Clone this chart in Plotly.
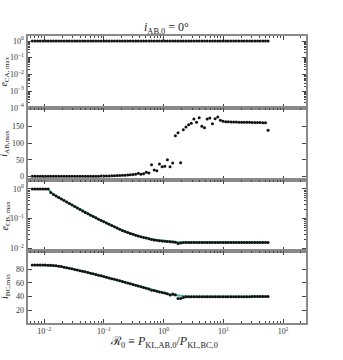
import plotly.graph_objects as go

# ---------------- data ----------------
R0 = [0.00631, 0.00699, 0.00774, 0.00857, 0.00950, 0.01052, 0.01165, 0.01290, 0.01429, 0.01583,
      0.01753, 0.01942, 0.02151, 0.02382, 0.02638, 0.02922, 0.03236, 0.03584, 0.03970, 0.04396,
      0.04870, 0.05395, 0.05975, 0.06617, 0.07330, 0.08117, 0.08994, 0.09961, 0.1103, 0.1222,
      0.1353, 0.1499, 0.1660, 0.1839, 0.2037, 0.2256, 0.2499, 0.2767, 0.3065, 0.3395,
      0.3760, 0.4165, 0.4613, 0.5109, 0.5659, 0.6268, 0.6943, 0.7691, 0.8517, 0.9434,
      1.045, 1.157, 1.282, 1.420, 1.573, 1.742, 1.929, 2.137, 2.367, 2.621,
      2.904, 3.216, 3.562, 3.945, 4.370, 4.840, 5.361, 5.938, 6.577, 7.285,
      8.067, 8.936, 9.897, 10.96, 12.14, 13.45, 14.89, 16.50, 18.27, 20.24,
      22.42, 24.83, 27.50, 30.46, 33.74, 37.37, 41.39, 45.85, 50.78, 56.23]

e_CA_max = [1.0, 1.0, 1.0, 1.0, 1.0, 1.0, 1.0, 1.0, 1.0, 1.0,
            1.0, 1.0, 1.0, 1.0, 1.0, 1.0, 1.0, 1.0, 1.0, 1.0,
            1.0, 1.0, 1.0, 1.0, 1.0, 1.0, 1.0, 1.0, 1.0, 1.0,
            1.0, 1.0, 1.0, 1.0, 1.0, 1.0, 1.0, 1.0, 1.0, 1.0,
            1.0, 1.0, 1.0, 1.0, 1.0, 1.0, 1.0, 1.0, 1.0, 1.0,
            1.0, 1.0, 1.0, 1.0, 1.0, 1.0, 1.0, 1.0, 1.0, 1.0,
            1.0, 1.0, 1.0, 1.0, 1.0, 1.0, 1.0, 1.0, 1.0, 1.0,
            1.0, 1.0, 1.0, 1.0, 1.0, 1.0, 1.0, 1.0, 1.0, 1.0,
            1.0, 1.0, 1.0, 1.0, 1.0, 1.0, 1.0, 1.0, 1.0, 1.0]

i_AB_max = [0.0, 0.0, 0.0, 0.0, 0.0, 0.0, 0.0, 0.0, 0.0, 0.0,
            0.0, 0.0, 0.0, 0.0, 0.0, 0.0, 0.0, 0.0, 0.0, 0.0,
            0.2, 0.3, 0.4, 0.5, 0.6, 0.7, 0.8, 1.0, 1.2, 1.4,
            1.6, 2.0, 2.3, 2.7, 3.1, 3.6, 4.2, 4.8, 5.5, 6.5,
            9.0, 6.0, 8.0, 12.0, 10.0, 35.0, 19.0, 17.0, 37.0, 29.0,
            30.0, 50.0, 29.0, 40.0, 122.0, 131.0, 41.0, 140.0, 148.0, 155.0,
            159.0, 172.0, 162.0, 176.0, 150.0, 146.0, 172.0, 175.0, 158.0, 173.0,
            178.0, 168.0, 165.0, 164.0, 163.5, 163.0, 163.0, 162.8, 162.6, 162.5,
            162.3, 162.2, 162.0, 161.8, 161.7, 161.5, 161.3, 161.0, 160.5, 138.0]

e_CB_max = [1.0, 1.0, 1.0, 1.0, 1.0, 1.0, 1.0, 0.759, 0.646, 0.575,
            0.513, 0.457, 0.407, 0.363, 0.324, 0.288, 0.257, 0.229, 0.204, 0.182,
            0.162, 0.145, 0.130, 0.117, 0.106, 0.0955, 0.0871, 0.0785, 0.0708, 0.0646,
            0.0582, 0.0531, 0.0479, 0.0437, 0.0398, 0.0367, 0.0339, 0.0316, 0.0295, 0.0275,
            0.0260, 0.0245, 0.0232, 0.0221, 0.0211, 0.0200, 0.0192, 0.0186, 0.0180, 0.0177,
            0.0172, 0.0169, 0.0166, 0.0163, 0.0160, 0.0146, 0.0150, 0.0158, 0.0158, 0.0158,
            0.0158, 0.0158, 0.0158, 0.0158, 0.0158, 0.0158, 0.0158, 0.0158, 0.0158, 0.0158,
            0.0158, 0.0158, 0.0158, 0.0158, 0.0158, 0.0158, 0.0158, 0.0158, 0.0158, 0.0158,
            0.0158, 0.0158, 0.0158, 0.0158, 0.0158, 0.0158, 0.0158, 0.0158, 0.0158, 0.0158]

e_CB_model = [1.0, 1.0, 1.0, 1.0, 1.0, 1.0, 1.0, 0.759, 0.646, 0.575,
              0.513, 0.457, 0.407, 0.363, 0.324, 0.288, 0.257, 0.229, 0.204, 0.182,
              0.162, 0.145, 0.130, 0.117, 0.106, 0.0955, 0.0871, 0.0785, 0.0708, 0.0646,
              0.0582, 0.0531, 0.0479, 0.0437, 0.0398, 0.0367, 0.0339, 0.0316, 0.0295, 0.0275,
              0.0260, 0.0245, 0.0232, 0.0221, 0.0211, 0.0204, 0.0197, 0.0191, 0.0186, 0.0182,
              0.0178, 0.0174, 0.0170, 0.0168, 0.0166, 0.0164, 0.0162, 0.0160, 0.0160, 0.0160,
              0.0160, 0.0160, 0.0160, 0.0160, 0.0160, 0.0160, 0.0160, 0.0160, 0.0160, 0.0160,
              0.0160, 0.0160, 0.0160, 0.0160, 0.0160, 0.0160, 0.0160, 0.0160, 0.0160, 0.0160,
              0.0160, 0.0160, 0.0160, 0.0160, 0.0160, 0.0160, 0.0160, 0.0160, 0.0160, 0.0160]

i_BC_min = [85.8, 85.8, 85.8, 85.8, 85.8, 85.8, 85.7, 85.6, 85.3, 84.9,
            84.3, 83.6, 82.8, 82.0, 81.2, 80.4, 79.5, 78.6, 77.7, 76.8,
            75.9, 75.0, 74.0, 73.1, 72.1, 71.1, 70.1, 69.1, 68.1, 67.1,
            66.0, 65.0, 63.9, 62.9, 61.8, 60.7, 59.6, 58.5, 57.4, 56.3,
            55.1, 54.0, 52.9, 51.8, 50.7, 49.0, 48.6, 47.5, 46.6, 45.7,
            45.0, 44.0, 42.0, 43.5, 42.5, 37.0, 37.0, 38.5, 39.3, 39.3,
            39.3, 39.3, 39.3, 39.3, 39.3, 39.3, 39.3, 39.3, 39.3, 39.3,
            39.3, 39.3, 39.3, 39.3, 39.3, 39.3, 39.3, 39.3, 39.3, 39.3,
            39.3, 39.3, 39.3, 39.8, 39.8, 39.8, 39.8, 39.8, 39.8, 39.8]

i_BC_model = [85.8, 85.8, 85.8, 85.8, 85.8, 85.8, 85.7, 85.6, 85.3, 84.9,
              84.3, 83.6, 82.8, 82.0, 81.2, 80.4, 79.5, 78.6, 77.7, 76.8,
              75.9, 75.0, 74.0, 73.1, 72.1, 71.1, 70.1, 69.1, 68.1, 67.1,
              66.0, 65.0, 63.9, 62.9, 61.8, 60.7, 59.6, 58.5, 57.4, 56.3,
              55.1, 54.0, 52.9, 51.8, 50.7, 49.6, 48.5, 47.4, 46.4, 45.4,
              44.5, 43.6, 42.8, 42.1, 41.5, 41.0, 40.6, 40.3, 40.1, 40.0,
              39.9, 39.8, 39.8, 39.8, 39.8, 39.8, 39.8, 39.8, 39.8, 39.8,
              39.8, 39.8, 39.8, 39.8, 39.8, 39.8, 39.8, 39.8, 39.8, 39.8,
              39.8, 39.8, 39.8, 39.8, 39.8, 39.8, 39.8, 39.8, 39.8, 39.8]

x_tickvals = [0.01, 0.1, 1, 10, 100]
x_ticktext = ["10<sup>−2</sup>", "10<sup>−1</sup>", "10<sup>0</sup>", "10<sup>1</sup>", "10<sup>2</sup>"]

# ---------------- style ----------------
FONT = "Liberation Serif, DejaVu Serif, serif"
SPINE = "#8a8a8a"
TICKC = "#444444"
TEAL = "#3fb49f"
W, H = 343, 360

x_dom = [27.5 / W, 306 / W]
y_doms = [[(360 - 107.7) / H, (360 - 35.5) / H],
          [(360 - 179.7) / H, (360 - 107.7) / H],
          [(360 - 251.3) / H, (360 - 179.7) / H],
          [(360 - 322.7) / H, (360 - 251.3) / H]]

minor_x = [m * 10.0 ** k for k in range(-3, 3) for m in range(2, 10)]
minor_y = [m * 10.0 ** k for k in range(-5, 1) for m in range(2, 10)]

fig = go.Figure()
series = [(e_CA_max, None), (i_AB_max, None), (e_CB_max, e_CB_model), (i_BC_min, i_BC_model)]
for k, (dots, model) in enumerate(series, start=1):
    xa = "x" if k == 1 else f"x{k}"
    ya = "y" if k == 1 else f"y{k}"
    if model is not None:
        fig.add_trace(go.Scatter(x=R0, y=model, mode="lines", line=dict(color=TEAL, width=2),
                                 xaxis=xa, yaxis=ya, showlegend=False, hoverinfo="skip"))
    fig.add_trace(go.Scatter(x=R0, y=dots, mode="markers",
                             marker=dict(color="#111111", size=3.0, line=dict(width=0)),
                             xaxis=xa, yaxis=ya, showlegend=False))

common_axis = dict(showline=True, linecolor=SPINE, linewidth=2, mirror="allticks",
                   ticks="inside", ticklen=4, tickwidth=1, tickcolor=TICKC,
                   showgrid=False, zeroline=False, automargin=False,
                   tickfont=dict(family=FONT, size=8, color="#333333"))

layout = dict(width=W, height=H, margin=dict(l=0, r=0, t=0, b=0, autoexpand=False),
              paper_bgcolor="white", plot_bgcolor="white", showlegend=False)

for k in range(1, 5):
    xkey = "xaxis" if k == 1 else f"xaxis{k}"
    ykey = "yaxis" if k == 1 else f"yaxis{k}"
    yanchor = "y" if k == 1 else f"y{k}"
    xanchor = "x" if k == 1 else f"x{k}"
    layout[xkey] = dict(common_axis, type="log", range=[-2.28, 2.385], domain=x_dom,
                        anchor=yanchor, tickmode="array", tickvals=x_tickvals,
                        ticktext=x_ticktext, showticklabels=(k == 4),
                        minor=dict(ticks="inside", ticklen=2, tickcolor=TICKC,
                                   tickmode="array", tickvals=minor_x))
    ydict = dict(common_axis, domain=y_doms[k - 1], anchor=xanchor)
    if k == 1:
        ydict.update(type="log", range=[-4, 0.33], tickmode="array",
                     tickvals=[1e-4, 1e-3, 1e-2, 1e-1, 1],
                     ticktext=["10<sup>−4</sup>", "10<sup>−3</sup>", "10<sup>−2</sup>",
                               "10<sup>−1</sup>", "10<sup>0</sup>"],
                     minor=dict(ticks="inside", ticklen=2, tickcolor=TICKC,
                                tickmode="array", tickvals=minor_y))
    elif k == 2:
        ydict.update(range=[-10, 206], tickmode="array", tickvals=[0, 50, 100, 150])
    elif k == 3:
        ydict.update(type="log", range=[-2.1, 0.31], tickmode="array",
                     tickvals=[1e-2, 1e-1, 1],
                     ticktext=["10<sup>−2</sup>", "10<sup>−1</sup>", "10<sup>0</sup>"],
                     minor=dict(ticks="inside", ticklen=2, tickcolor=TICKC,
                                tickmode="array", tickvals=minor_y))
    else:
        ydict.update(range=[1.5, 106], tickmode="array", tickvals=[20, 40, 60, 80])
    layout[ykey] = ydict

fig.update_layout(**layout)

ylabels = ["<i>e</i><sub>CA, max</sub>", "<i>i</i><sub>AB,max</sub>",
           "<i>e</i><sub>CB, max</sub>", "<i>i</i><sub>BC,min</sub>"]
for lab, dom in zip(ylabels, y_doms):
    fig.add_annotation(text=lab, xref="paper", yref="paper", x=5 / W,
                       y=(dom[0] + dom[1]) / 2, textangle=-90, showarrow=False,
                       xanchor="center", yanchor="middle",
                       font=dict(family=FONT, size=10, color="#222222"))

fig.add_annotation(text="<i>i</i><sub>AB,0</sub> = 0°", xref="paper", yref="paper",
                   x=166.7 / W, y=(360 - 28) / H, showarrow=False,
                   xanchor="center", yanchor="middle",
                   font=dict(family=FONT, size=12, color="#222222"))
fig.add_annotation(text="ℛ<sub>0</sub> ≡ <i>P</i><sub>KL,AB,0</sub>/<i>P</i><sub>KL,BC,0</sub>",
                   xref="paper", yref="paper", x=164 / W, y=(360 - 342) / H,
                   showarrow=False, xanchor="center", yanchor="middle",
                   font=dict(family=FONT, size=12, color="#222222"))

fig.write_html("out.html",
               config={"displayModeBar": False},
               post_script="document.body.style.margin='0';"
                           "document.body.style.overflow='hidden';")
